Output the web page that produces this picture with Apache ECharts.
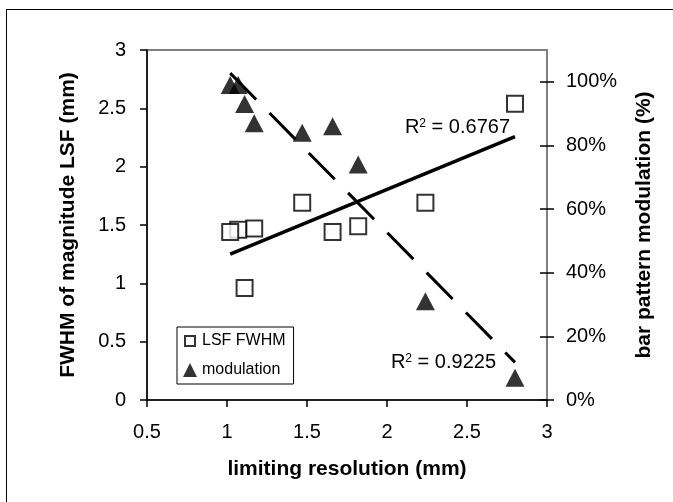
<!DOCTYPE html>
<html><head><meta charset="utf-8">
<script src="https://cdn.jsdelivr.net/npm/echarts@6/dist/echarts.min.js"></script>
<style>
html,body{margin:0;padding:0;background:#fff}
#wrap{width:673px;height:502px;position:relative;overflow:hidden}
#c{width:673px;height:502px}
#frame{position:absolute;left:6px;top:9px;width:700px;height:520px;border-left:1.5px solid #000;border-top:1.5px solid #000;pointer-events:none;box-sizing:border-box}
</style></head><body>
<div id="wrap"><div id="c"></div><div id="frame"></div></div>
<script>
// ---- data ----
const resolution = [1.02, 1.07, 1.11, 1.17, 1.47, 1.66, 1.82, 2.24, 2.80];   // limiting resolution (mm)
const lsfFwhm    = [1.44, 1.46, 0.96, 1.47, 1.69, 1.44, 1.49, 1.69, 2.54];   // FWHM of magnitude LSF (mm)
const modulation = [99, 99, 93, 87, 84, 86, 74, 31, 7];                      // bar pattern modulation (%)
const rightTicks = [0, 20, 40, 60, 80, 100];
const r2Lsf = '0.6767';
const r2Mod = '0.9225';
const seriesNames = ['LSF FWHM', 'modulation'];

const FONT = '"Liberation Sans", Arial, Helvetica, sans-serif';

function linFit(xs, ys) {
  const n = xs.length;
  const mx = xs.reduce((a, b) => a + b, 0) / n;
  const my = ys.reduce((a, b) => a + b, 0) / n;
  let sxy = 0, sxx = 0;
  for (let i = 0; i < n; i++) { sxy += (xs[i] - mx) * (ys[i] - my); sxx += (xs[i] - mx) * (xs[i] - mx); }
  const b = sxy / sxx, a = my - b * mx;
  const x0 = Math.min(...xs), x1 = Math.max(...xs);
  return [[x0, a + b * x0], [x1, a + b * x1]];
}
const trendLsf = linFit(resolution, lsfFwhm);
const trendMod = linFit(resolution, modulation);

// drawn last-to-first so earlier points sit on top, as in the reference
const zip = (xs, ys) => xs.map((x, i) => [x, ys[i]]).reverse();

const rich = {
  a: { fontSize: 20, fontFamily: FONT, color: '#000' },
  s: { fontSize: 12, fontFamily: FONT, color: '#000', verticalAlign: 'top' }
};

const chart = echarts.init(document.getElementById('c'), null, { renderer: 'canvas' });
chart.setOption({
  animation: false,
  backgroundColor: '#fff',
  textStyle: { fontFamily: FONT },
  grid: { left: 147, right: 126, top: 50, bottom: 102, show: true, borderColor: '#808080', borderWidth: 2, backgroundColor: 'transparent', outerBoundsMode: 'none', containLabel: false },
  legend: {
    orient: 'vertical', left: 177, top: 327,
    padding: [6, 8, 6, 5], itemGap: 13, itemWidth: 14, itemHeight: 14, itemTextGap: 5,
    borderColor: '#000', borderWidth: 1, backgroundColor: '#fff',
    textStyle: { fontSize: 16, color: '#000', fontFamily: FONT },
    data: [
      { name: seriesNames[0], icon: 'path://M0,0M14,14M2,2L12,2L12,12L2,12Z', itemStyle: { color: '#fff', borderColor: '#000', borderWidth: 2 } },
      { name: seriesNames[1], icon: 'triangle', itemStyle: { color: '#000', borderWidth: 0 } }
    ]
  },
  xAxis: {
    type: 'value', min: 0.5, max: 3, interval: 0.5,
    name: 'limiting resolution (mm)', nameLocation: 'middle', nameGap: 59,
    nameTextStyle: { fontFamily: FONT, fontSize: 21, fontWeight: 'bold', color: '#000' },
    axisLine: { show: true, onZero: false, lineStyle: { color: '#000', width: 1.5 } },
    axisTick: { show: true, length: 7, lineStyle: { color: '#000', width: 1.5 } },
    axisLabel: { fontSize: 20, color: '#000', margin: 22, fontFamily: FONT },
    splitLine: { show: false }
  },
  yAxis: [
    {
      type: 'value', position: 'left', min: 0, max: 3, interval: 0.5,
      name: 'FWHM of magnitude LSF (mm)', nameLocation: 'middle', nameRotate: 90, nameGap: 68,
      nameTextStyle: { fontFamily: FONT, fontSize: 21, fontWeight: 'bold', color: '#000' },
      axisLine: { show: true, onZero: false, lineStyle: { color: '#000', width: 1.5 } },
      axisTick: { show: true, length: 7, lineStyle: { color: '#000', width: 1.5 } },
      axisLabel: { fontSize: 20, color: '#000', margin: 21, fontFamily: FONT },
      splitLine: { show: false }
    },
    {
      type: 'value', position: 'right', min: 0, max: 110, interval: 20,
      name: 'bar pattern modulation (%)', nameLocation: 'middle', nameRotate: 90, nameGap: 87,
      nameTextStyle: { fontFamily: FONT, fontSize: 21, fontWeight: 'bold', color: '#000' },
      axisLine: { show: true, onZero: false, lineStyle: { color: '#808080', width: 2 } },
      axisTick: { show: true, length: 7, customValues: rightTicks, lineStyle: { color: '#000', width: 1.5 } },
      axisLabel: { fontSize: 20, color: '#000', margin: 19, fontFamily: FONT, customValues: rightTicks, formatter: '{value}%' },
      splitLine: { show: false }
    },
    {
      type: 'value', position: 'right', min: 0, max: 110, interval: 20,
      axisLine: { show: false },
      axisTick: { show: true, inside: true, length: 7, customValues: rightTicks, lineStyle: { color: '#000', width: 1.5 } },
      axisLabel: { show: false },
      splitLine: { show: false }
    }
  ],
  series: [
    {
      name: 'trend LSF', type: 'line', yAxisIndex: 0, data: trendLsf, symbol: 'none', silent: true, z: 2,
      lineStyle: { color: '#000', width: 3.5 },
      markPoint: {
        symbol: 'circle', symbolSize: 0, silent: true, animation: false,
        data: [{ coord: trendLsf[1], label: { show: true, position: 'inside', align: 'right', verticalAlign: 'middle', offset: [-5, -9], formatter: '{a|R}{s|2}{a| = ' + r2Lsf + '}', rich: rich } }]
      }
    },
    {
      name: 'trend modulation', type: 'line', yAxisIndex: 1, data: trendMod, symbol: 'none', silent: true, z: 2,
      lineStyle: { color: '#000', width: 3, type: [37, 19] },
      markPoint: {
        symbol: 'circle', symbolSize: 0, silent: true, animation: false,
        data: [{ coord: trendMod[1], label: { show: true, position: 'inside', align: 'right', verticalAlign: 'middle', offset: [-19, 0], formatter: '{a|R}{s|2}{a| = ' + r2Mod + '}', rich: rich } }]
      }
    },
    {
      name: seriesNames[0], type: 'scatter', yAxisIndex: 0, data: zip(resolution, lsfFwhm), z: 3,
      symbol: 'rect', symbolSize: 16,
      itemStyle: { color: '#fff', borderColor: '#000', borderWidth: 2 }
    },
    {
      name: seriesNames[1], type: 'scatter', yAxisIndex: 1, data: zip(resolution, modulation), z: 3,
      symbol: 'triangle', symbolSize: [19, 18],
      itemStyle: { color: '#000' }
    }
  ]
});
</script>
</body></html>
